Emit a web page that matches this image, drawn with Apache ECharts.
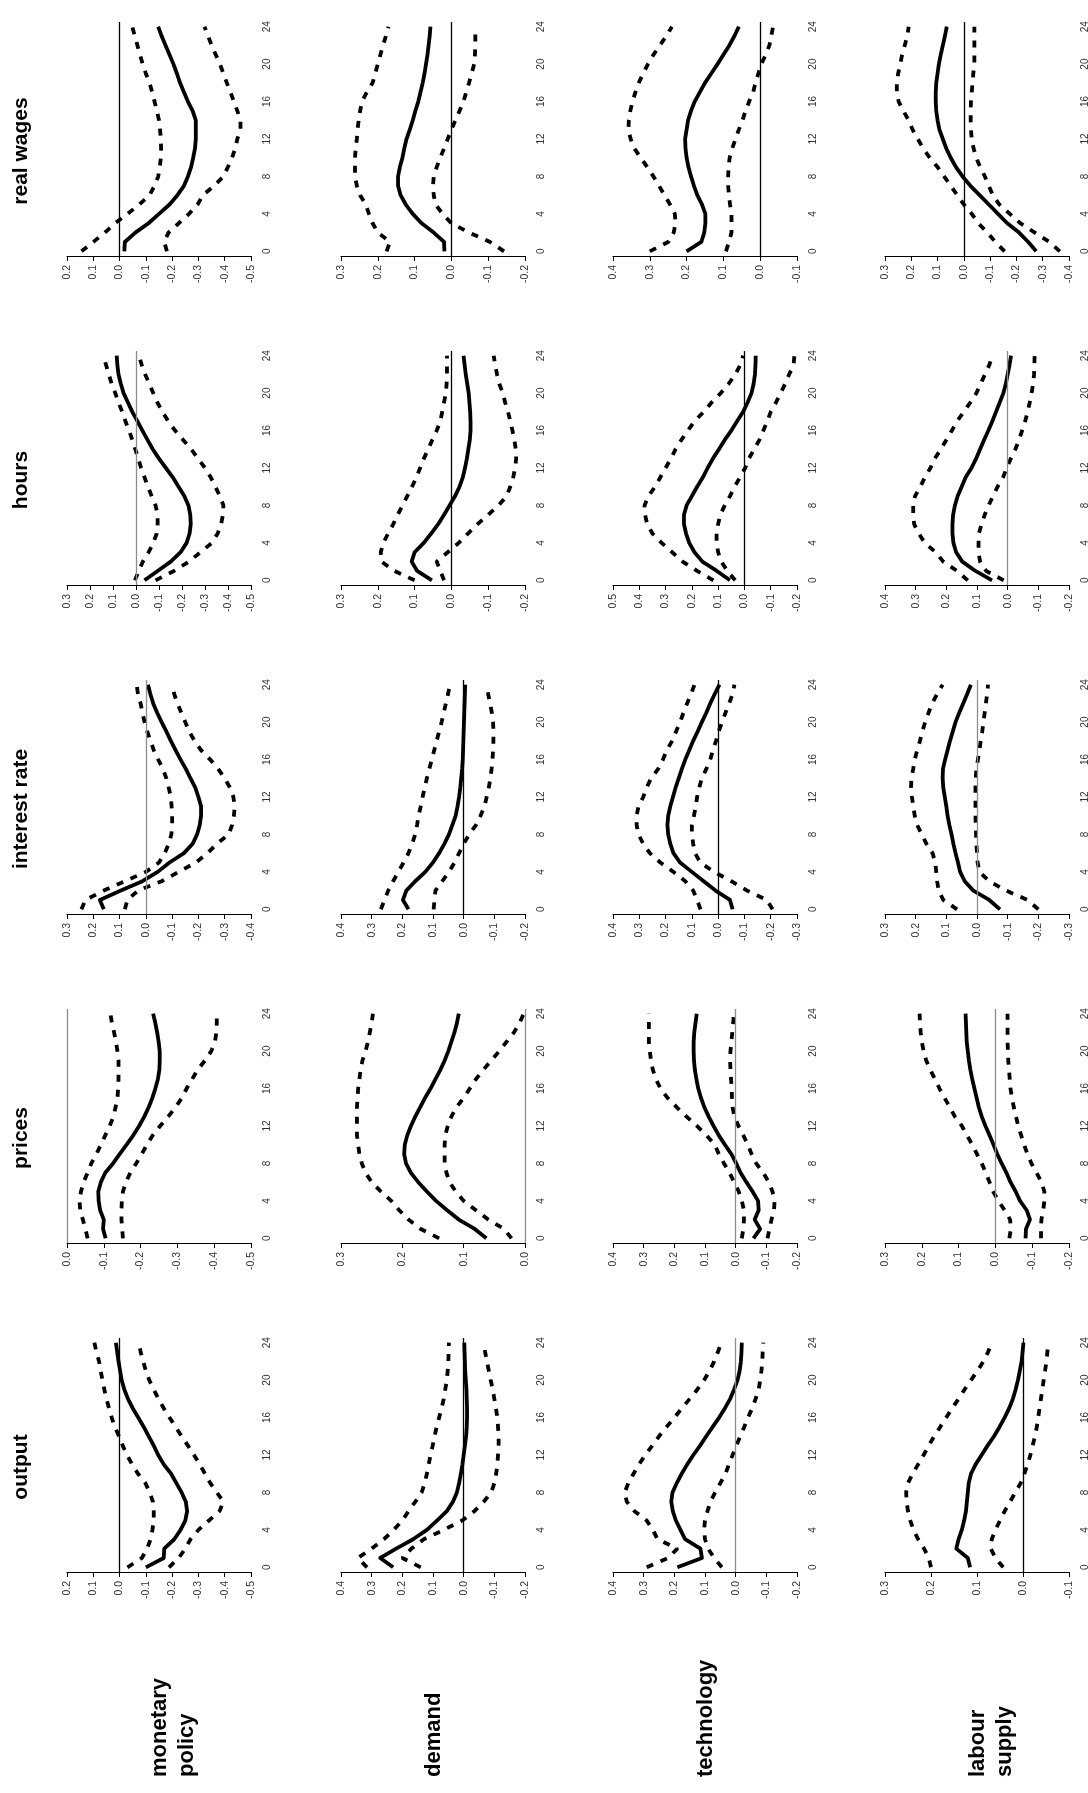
<!DOCTYPE html>
<html>
<head>
<meta charset="utf-8">
<script src="https://cdn.jsdelivr.net/npm/echarts/dist/echarts.min.js"></script>
<style>
  html, body { margin: 0; padding: 0; background: #fff; }
  #chart { width: 1088px; height: 1793px; }
</style>
</head>
<body>
<div id="chart"></div>
<script>
// horizons 0..24 (quarters)
const horizon = ['0','1','2','3','4','5','6','7','8','9','10','11','12','13','14','15','16','17','18','19','20','21','22','23','24'];
const variables = ['real wages', 'hours', 'interest rate', 'prices', 'output'];
const shocks = ['monetary\npolicy', 'demand', 'technology', 'labour\nsupply'];

// value axis ranges [min, max], one per shock column
const wagesRange = [[-0.5, 0.2], [-0.2, 0.3], [-0.1, 0.4], [-0.4, 0.3]];
const hoursRange = [[-0.5, 0.3], [-0.2, 0.3], [-0.2, 0.5], [-0.2, 0.4]];
const interestRange = [[-0.4, 0.3], [-0.2, 0.4], [-0.3, 0.4], [-0.3, 0.3]];
const pricesRange = [[-0.5, 0.0], [0.0, 0.3], [-0.2, 0.4], [-0.2, 0.3]];
const outputRange = [[-0.5, 0.2], [-0.2, 0.4], [-0.2, 0.4], [-0.1, 0.3]];

// real wages
const wagesMonMid = [-0.018,-0.02,-0.06,-0.11,-0.15,-0.19,-0.22,-0.245,-0.26,-0.272,-0.28,-0.287,-0.29,-0.29,-0.29,-0.278,-0.26,-0.245,-0.23,-0.218,-0.205,-0.19,-0.175,-0.16,-0.147];
const wagesMonHi = [0.145,0.1,0.056,0.017,-0.03,-0.075,-0.114,-0.133,-0.147,-0.153,-0.157,-0.158,-0.157,-0.154,-0.15,-0.142,-0.133,-0.124,-0.114,-0.1,-0.088,-0.078,-0.068,-0.058,-0.048];
const wagesMonLo = [-0.18,-0.17,-0.186,-0.225,-0.264,-0.297,-0.317,-0.36,-0.395,-0.412,-0.428,-0.44,-0.448,-0.46,-0.46,-0.448,-0.435,-0.422,-0.408,-0.395,-0.382,-0.366,-0.35,-0.337,-0.323];
const wagesDemMid = [0.019,0.02,0.048,0.081,0.105,0.124,0.138,0.145,0.145,0.14,0.133,0.128,0.122,0.113,0.105,0.098,0.09,0.084,0.078,0.073,0.069,0.065,0.062,0.059,0.057];
const wagesDemHi = [0.176,0.167,0.2,0.214,0.224,0.233,0.248,0.257,0.262,0.262,0.262,0.26,0.257,0.255,0.252,0.248,0.243,0.23,0.214,0.207,0.2,0.193,0.186,0.178,0.171];
const wagesDemLo = [-0.143,-0.105,-0.048,0.0,0.024,0.043,0.048,0.05,0.048,0.04,0.03,0.02,0.01,0.0,-0.011,-0.022,-0.033,-0.04,-0.048,-0.055,-0.062,-0.064,-0.065,-0.065,-0.065];
const wagesTechMid = [0.2,0.16,0.152,0.149,0.149,0.158,0.171,0.18,0.188,0.195,0.2,0.203,0.204,0.2,0.196,0.188,0.178,0.164,0.15,0.133,0.116,0.1,0.084,0.07,0.058];
const wagesTechHi = [0.3,0.25,0.235,0.23,0.232,0.245,0.26,0.275,0.29,0.307,0.325,0.342,0.352,0.358,0.357,0.353,0.347,0.339,0.33,0.318,0.305,0.29,0.273,0.255,0.24];
const wagesTechLo = [0.093,0.085,0.078,0.078,0.078,0.082,0.085,0.087,0.087,0.086,0.083,0.076,0.067,0.058,0.048,0.04,0.03,0.019,0.013,0.005,-0.003,-0.015,-0.025,-0.03,-0.035];
const wagesLabMid = [-0.275,-0.245,-0.21,-0.165,-0.13,-0.095,-0.06,-0.025,0.005,0.03,0.05,0.067,0.08,0.093,0.1,0.105,0.107,0.107,0.105,0.1,0.095,0.088,0.08,0.072,0.065];
const wagesLabHi = [-0.155,-0.12,-0.09,-0.055,-0.03,0.0,0.025,0.05,0.075,0.1,0.13,0.155,0.175,0.195,0.21,0.23,0.248,0.255,0.255,0.25,0.242,0.235,0.225,0.215,0.21];
const wagesLabLo = [-0.365,-0.325,-0.27,-0.215,-0.175,-0.135,-0.11,-0.095,-0.08,-0.062,-0.047,-0.037,-0.03,-0.027,-0.026,-0.026,-0.027,-0.03,-0.033,-0.036,-0.04,-0.04,-0.04,-0.04,-0.04];

// hours
const hoursMonMid = [-0.037,-0.094,-0.151,-0.194,-0.22,-0.233,-0.238,-0.236,-0.228,-0.21,-0.185,-0.16,-0.13,-0.1,-0.073,-0.05,-0.028,-0.006,0.016,0.035,0.054,0.066,0.076,0.081,0.084];
const hoursMonHi = [0.005,-0.012,-0.03,-0.055,-0.075,-0.09,-0.094,-0.094,-0.085,-0.068,-0.052,-0.037,-0.022,-0.01,0.003,0.016,0.03,0.046,0.06,0.076,0.09,0.106,0.118,0.13,0.143];
const hoursMonLo = [-0.085,-0.165,-0.23,-0.28,-0.33,-0.355,-0.37,-0.378,-0.38,-0.365,-0.345,-0.325,-0.3,-0.27,-0.24,-0.205,-0.17,-0.14,-0.115,-0.093,-0.075,-0.058,-0.04,-0.025,-0.013];
const hoursDemMid = [0.053,0.093,0.108,0.1,0.075,0.055,0.036,0.02,0.005,-0.01,-0.022,-0.031,-0.037,-0.042,-0.046,-0.05,-0.052,-0.052,-0.051,-0.049,-0.047,-0.043,-0.039,-0.036,-0.033];
const hoursDemHi = [0.1,0.155,0.19,0.192,0.185,0.172,0.158,0.146,0.133,0.12,0.107,0.095,0.085,0.075,0.063,0.052,0.04,0.03,0.025,0.02,0.015,0.013,0.012,0.012,0.012];
const hoursDemLo = [0.02,0.03,0.04,0.01,-0.02,-0.045,-0.071,-0.1,-0.128,-0.15,-0.16,-0.168,-0.173,-0.176,-0.175,-0.171,-0.166,-0.16,-0.154,-0.146,-0.14,-0.13,-0.124,-0.119,-0.115];
const hoursTechMid = [0.055,0.105,0.16,0.19,0.21,0.222,0.23,0.23,0.22,0.2,0.18,0.158,0.14,0.12,0.097,0.075,0.05,0.028,0.005,-0.012,-0.027,-0.035,-0.04,-0.042,-0.043];
const hoursTechHi = [0.118,0.18,0.235,0.275,0.315,0.35,0.37,0.378,0.38,0.365,0.34,0.32,0.3,0.28,0.262,0.24,0.215,0.19,0.155,0.125,0.09,0.06,0.035,0.016,0.005];
const hoursTechLo = [0.035,0.065,0.088,0.1,0.106,0.106,0.1,0.092,0.075,0.055,0.037,0.017,-0.003,-0.017,-0.037,-0.057,-0.072,-0.087,-0.1,-0.12,-0.138,-0.155,-0.17,-0.187,-0.19];
const hoursLabMid = [0.051,0.105,0.148,0.168,0.177,0.18,0.18,0.178,0.172,0.163,0.15,0.137,0.118,0.103,0.09,0.077,0.063,0.05,0.038,0.026,0.014,0.006,0.0,-0.006,-0.011];
const hoursLabHi = [0.13,0.165,0.21,0.235,0.27,0.29,0.305,0.308,0.308,0.302,0.285,0.27,0.252,0.238,0.218,0.2,0.182,0.165,0.143,0.122,0.102,0.088,0.074,0.06,0.05];
const hoursLabLo = [0.013,0.07,0.09,0.095,0.095,0.094,0.085,0.075,0.062,0.048,0.033,0.015,0.003,-0.01,-0.025,-0.037,-0.047,-0.057,-0.065,-0.072,-0.078,-0.083,-0.086,-0.087,-0.088];

// interest rate
const interestMonMid = [0.16,0.175,0.095,0.013,-0.045,-0.09,-0.145,-0.178,-0.195,-0.205,-0.21,-0.21,-0.2,-0.188,-0.17,-0.152,-0.132,-0.113,-0.095,-0.078,-0.06,-0.043,-0.028,-0.017,-0.008];
const interestMonHi = [0.245,0.23,0.16,0.08,0.0,-0.05,-0.072,-0.087,-0.097,-0.1,-0.1,-0.098,-0.095,-0.087,-0.078,-0.065,-0.047,-0.03,-0.018,-0.005,0.005,0.013,0.02,0.03,0.035];
const interestMonLo = [0.08,0.07,0.03,-0.06,-0.125,-0.19,-0.235,-0.27,-0.315,-0.328,-0.335,-0.338,-0.333,-0.32,-0.3,-0.275,-0.245,-0.21,-0.185,-0.165,-0.15,-0.135,-0.12,-0.108,-0.1];
const interestDemMid = [0.18,0.198,0.187,0.158,0.125,0.1,0.08,0.063,0.048,0.037,0.026,0.02,0.015,0.011,0.008,0.005,0.003,0.002,0.001,0.0,-0.001,-0.002,-0.003,-0.004,-0.005];
const interestDemHi = [0.27,0.258,0.246,0.23,0.213,0.196,0.18,0.168,0.158,0.152,0.147,0.14,0.134,0.127,0.12,0.112,0.104,0.096,0.088,0.08,0.072,0.065,0.058,0.051,0.045];
const interestDemLo = [0.098,0.095,0.092,0.07,0.048,0.03,0.015,0.0,-0.018,-0.04,-0.055,-0.068,-0.075,-0.082,-0.087,-0.091,-0.094,-0.096,-0.097,-0.097,-0.096,-0.092,-0.086,-0.08,-0.076];
const interestTechMid = [-0.055,-0.045,0.01,0.055,0.1,0.145,0.17,0.182,0.19,0.193,0.19,0.182,0.172,0.162,0.15,0.138,0.125,0.11,0.095,0.078,0.062,0.045,0.03,0.013,-0.005];
const interestTechHi = [0.067,0.08,0.095,0.125,0.17,0.22,0.26,0.285,0.303,0.31,0.31,0.303,0.285,0.272,0.255,0.228,0.21,0.195,0.175,0.16,0.145,0.132,0.118,0.103,0.09];
const interestTechLo = [-0.207,-0.185,-0.11,-0.05,0.015,0.068,0.088,0.095,0.1,0.1,0.092,0.085,0.08,0.072,0.062,0.045,0.03,0.02,0.008,-0.002,-0.015,-0.028,-0.042,-0.055,-0.062];
const interestLabMid = [-0.075,-0.04,0.012,0.04,0.055,0.062,0.07,0.077,0.083,0.09,0.096,0.1,0.105,0.11,0.112,0.111,0.104,0.096,0.088,0.079,0.07,0.058,0.045,0.032,0.02];
const interestLabHi = [0.065,0.11,0.125,0.13,0.133,0.136,0.145,0.165,0.18,0.195,0.203,0.208,0.212,0.215,0.214,0.208,0.203,0.195,0.186,0.178,0.169,0.158,0.146,0.13,0.112];
const interestLabLo = [-0.2,-0.165,-0.095,-0.04,-0.008,-0.002,0.0,0.002,0.003,0.004,0.005,0.005,0.005,0.005,0.004,0.002,-0.003,-0.008,-0.012,-0.017,-0.021,-0.025,-0.029,-0.033,-0.036];

// prices
const pricesMonMid = [-0.105,-0.098,-0.1,-0.09,-0.086,-0.085,-0.092,-0.104,-0.125,-0.143,-0.162,-0.18,-0.196,-0.21,-0.222,-0.232,-0.24,-0.247,-0.251,-0.252,-0.252,-0.249,-0.245,-0.24,-0.234];
const pricesMonHi = [-0.056,-0.05,-0.043,-0.036,-0.034,-0.038,-0.045,-0.056,-0.066,-0.08,-0.092,-0.104,-0.116,-0.126,-0.132,-0.137,-0.139,-0.14,-0.14,-0.14,-0.137,-0.133,-0.128,-0.122,-0.118];
const pricesMonLo = [-0.152,-0.15,-0.148,-0.148,-0.149,-0.152,-0.16,-0.172,-0.188,-0.203,-0.217,-0.233,-0.253,-0.275,-0.295,-0.312,-0.325,-0.34,-0.355,-0.375,-0.392,-0.402,-0.406,-0.407,-0.407];
const pricesDemMid = [0.063,0.082,0.108,0.127,0.145,0.16,0.174,0.186,0.194,0.197,0.196,0.192,0.186,0.179,0.171,0.163,0.154,0.146,0.138,0.131,0.125,0.12,0.115,0.111,0.108];
const pricesDemHi = [0.14,0.17,0.19,0.205,0.218,0.235,0.25,0.26,0.266,0.27,0.272,0.274,0.274,0.274,0.274,0.273,0.272,0.27,0.268,0.265,0.26,0.256,0.253,0.25,0.248];
const pricesDemLo = [0.022,0.034,0.06,0.08,0.1,0.113,0.123,0.128,0.131,0.131,0.131,0.13,0.126,0.12,0.112,0.1,0.09,0.08,0.068,0.055,0.042,0.03,0.018,0.009,0.002];
const pricesTechMid = [-0.058,-0.08,-0.062,-0.075,-0.073,-0.055,-0.035,-0.016,-0.002,0.014,0.035,0.055,0.072,0.088,0.102,0.113,0.122,0.128,0.133,0.136,0.137,0.137,0.135,0.131,0.127];
const pricesTechHi = [-0.02,-0.025,-0.027,-0.027,-0.02,-0.01,0.005,0.02,0.038,0.055,0.068,0.095,0.126,0.16,0.192,0.222,0.245,0.26,0.27,0.276,0.28,0.283,0.283,0.283,0.283];
const pricesTechLo = [-0.104,-0.11,-0.117,-0.125,-0.127,-0.12,-0.108,-0.09,-0.067,-0.052,-0.04,-0.025,-0.009,0.004,0.01,0.012,0.013,0.015,0.017,0.018,0.017,0.014,0.011,0.008,0.006];
const pricesLabMid = [-0.082,-0.083,-0.094,-0.085,-0.067,-0.055,-0.041,-0.03,-0.017,-0.005,0.005,0.016,0.027,0.037,0.045,0.051,0.057,0.063,0.068,0.072,0.075,0.078,0.079,0.08,0.081];
const pricesLabHi = [-0.038,-0.042,-0.04,-0.025,-0.008,0.006,0.016,0.026,0.037,0.05,0.063,0.077,0.091,0.11,0.124,0.138,0.152,0.164,0.177,0.188,0.195,0.2,0.203,0.205,0.206];
const pricesLabLo = [-0.124,-0.124,-0.125,-0.13,-0.133,-0.133,-0.125,-0.112,-0.098,-0.087,-0.078,-0.07,-0.062,-0.056,-0.05,-0.045,-0.041,-0.039,-0.037,-0.035,-0.034,-0.033,-0.033,-0.033,-0.033];

// output
const outputMonMid = [-0.1,-0.168,-0.17,-0.208,-0.232,-0.25,-0.257,-0.252,-0.236,-0.216,-0.196,-0.168,-0.147,-0.13,-0.111,-0.092,-0.071,-0.05,-0.032,-0.018,-0.008,-0.002,0.004,0.009,0.014];
const outputMonHi = [-0.03,-0.085,-0.105,-0.118,-0.125,-0.13,-0.13,-0.127,-0.115,-0.098,-0.07,-0.048,-0.028,-0.012,0.002,0.018,0.03,0.04,0.05,0.058,0.065,0.072,0.078,0.088,0.096];
const outputMonLo = [-0.188,-0.225,-0.25,-0.27,-0.3,-0.34,-0.38,-0.395,-0.37,-0.345,-0.325,-0.305,-0.283,-0.26,-0.236,-0.213,-0.19,-0.168,-0.148,-0.13,-0.113,-0.1,-0.09,-0.08,-0.074];
const outputDemMid = [0.23,0.272,0.22,0.165,0.12,0.087,0.055,0.035,0.022,0.015,0.009,0.004,0.0,-0.004,-0.008,-0.01,-0.011,-0.011,-0.01,-0.009,-0.007,-0.005,-0.004,-0.003,-0.002];
const outputDemHi = [0.315,0.345,0.3,0.26,0.228,0.2,0.18,0.158,0.137,0.127,0.12,0.114,0.108,0.101,0.095,0.088,0.08,0.072,0.065,0.06,0.055,0.052,0.05,0.049,0.048];
const outputDemLo = [0.14,0.2,0.17,0.13,0.065,0.005,-0.035,-0.065,-0.09,-0.1,-0.106,-0.11,-0.112,-0.114,-0.114,-0.112,-0.11,-0.105,-0.1,-0.095,-0.088,-0.082,-0.076,-0.07,-0.066];
const outputTechMid = [0.19,0.11,0.115,0.165,0.18,0.195,0.205,0.21,0.206,0.192,0.176,0.158,0.138,0.116,0.096,0.075,0.054,0.035,0.018,0.005,-0.006,-0.013,-0.017,-0.019,-0.02];
const outputTechHi = [0.29,0.22,0.19,0.255,0.27,0.29,0.33,0.355,0.362,0.35,0.333,0.315,0.295,0.272,0.25,0.225,0.2,0.175,0.15,0.125,0.103,0.085,0.07,0.058,0.047];
const outputTechLo = [0.045,0.07,0.09,0.1,0.103,0.1,0.092,0.082,0.067,0.05,0.033,0.022,0.01,-0.002,-0.015,-0.028,-0.04,-0.054,-0.065,-0.075,-0.08,-0.084,-0.087,-0.088,-0.09];
const outputLabMid = [0.115,0.12,0.145,0.14,0.133,0.128,0.124,0.122,0.12,0.118,0.113,0.103,0.09,0.077,0.063,0.051,0.04,0.03,0.022,0.016,0.011,0.007,0.003,0.001,-0.001];
const outputLabHi = [0.2,0.205,0.215,0.228,0.238,0.245,0.25,0.253,0.254,0.25,0.24,0.228,0.216,0.205,0.193,0.18,0.167,0.154,0.14,0.127,0.113,0.099,0.086,0.076,0.068];
const outputLabLo = [0.043,0.06,0.07,0.068,0.06,0.05,0.04,0.028,0.017,0.005,-0.003,-0.01,-0.016,-0.021,-0.026,-0.03,-0.033,-0.036,-0.039,-0.042,-0.045,-0.048,-0.051,-0.053,-0.055];

// rows top to bottom, columns = shocks
const panels = [
  [wagesRange, [[wagesMonMid, wagesMonHi, wagesMonLo], [wagesDemMid, wagesDemHi, wagesDemLo], [wagesTechMid, wagesTechHi, wagesTechLo], [wagesLabMid, wagesLabHi, wagesLabLo]]],
  [hoursRange, [[hoursMonMid, hoursMonHi, hoursMonLo], [hoursDemMid, hoursDemHi, hoursDemLo], [hoursTechMid, hoursTechHi, hoursTechLo], [hoursLabMid, hoursLabHi, hoursLabLo]]],
  [interestRange, [[interestMonMid, interestMonHi, interestMonLo], [interestDemMid, interestDemHi, interestDemLo], [interestTechMid, interestTechHi, interestTechLo], [interestLabMid, interestLabHi, interestLabLo]]],
  [pricesRange, [[pricesMonMid, pricesMonHi, pricesMonLo], [pricesDemMid, pricesDemHi, pricesDemLo], [pricesTechMid, pricesTechHi, pricesTechLo], [pricesLabMid, pricesLabHi, pricesLabLo]]],
  [outputRange, [[outputMonMid, outputMonHi, outputMonLo], [outputDemMid, outputDemHi, outputDemLo], [outputTechMid, outputTechHi, outputTechLo], [outputLabMid, outputLabHi, outputLabLo]]]
];

// layout
const colLeft = [67, 341, 613, 885];
const rowTop = [22, 351, 680, 1009, 1338];
const plotW = 184, plotH = 234;
// grey zero line in some panels, black in others
const greyZero = [[0, 0, 0, 0], [1, 0, 0, 1], [1, 0, 0, 1], [1, 1, 1, 1], [0, 0, 1, 0]];

const fmt = v => (Math.abs(v) < 1e-9 ? 0 : v).toFixed(1);
const font = 'Liberation Sans, Arial, sans-serif';

const chart = echarts.init(document.getElementById('chart'), null, {renderer: 'canvas'});
const grid = [], xAxis = [], yAxis = [], series = [], graphic = [];

panels.forEach((row, r) => {
  const range = row[0];
  row[1].forEach((lines, c) => {
    const i = grid.length;
    grid.push({left: colLeft[c], top: rowTop[r], width: plotW, height: plotH, outerBoundsMode: 'none'});
    xAxis.push({
      type: 'value', gridIndex: i, inverse: true, position: 'bottom',
      min: range[c][0], max: range[c][1], interval: 0.1,
      axisLine: {show: true, onZero: false, lineStyle: {color: '#000', width: 1}},
      axisTick: {show: true, length: 5, lineStyle: {color: '#000', width: 1}},
      splitLine: {show: false},
      axisLabel: {rotate: 90, margin: 9, fontSize: 10.5, color: '#333', fontFamily: font, formatter: fmt, hideOverlap: false}
    });
    yAxis.push({
      type: 'category', gridIndex: i, data: horizon, position: 'right', boundaryGap: true,
      axisLine: {show: false, onZero: false}, axisTick: {show: false}, splitLine: {show: false},
      axisLabel: {interval: 3, rotate: 90, margin: 11, fontSize: 10, color: '#333', fontFamily: font}
    });
    const zeroColor = greyZero[r][c] ? '#8c8c8c' : '#000';
    lines.forEach((vals, k) => {
      series.push({
        type: 'line', xAxisIndex: i, yAxisIndex: i, data: vals,
        symbol: 'none', silent: true, animation: false,
        lineStyle: k === 0
          ? {color: '#000', width: 3.8, type: 'solid', join: 'round'}
          : {color: '#000', width: 3.8, type: [7, 8], cap: 'butt'},
        z: 3,
        markLine: k === 0 ? {
          symbol: ['none', 'none'], silent: true, animation: false,
          label: {show: false},
          lineStyle: {color: zeroColor, width: 1.3, type: 'solid'},
          data: [{xAxis: 0}]
        } : undefined
      });
    });
  });
  graphic.push({
    type: 'text', x: 21, y: rowTop[r] + plotH / 2 + 12, rotation: Math.PI / 2,
    style: {text: variables[r], fontSize: 21, fontWeight: 'bold', fontFamily: font, fill: '#000',
            textAlign: 'center', textVerticalAlign: 'middle'}
  });
});

shocks.forEach((s, c) => {
  graphic.push({
    type: 'text', x: colLeft[c] + 79, y: 1777, rotation: Math.PI / 2,
    style: {text: s, fontSize: 22, fontWeight: 'bold', fontFamily: font, fill: '#000',
            lineHeight: 27, textAlign: 'left', textVerticalAlign: 'top'}
  });
});

chart.setOption({
  animation: false,
  backgroundColor: '#fff',
  grid: grid,
  xAxis: xAxis,
  yAxis: yAxis,
  series: series,
  graphic: graphic
});
</script>
</body>
</html>
